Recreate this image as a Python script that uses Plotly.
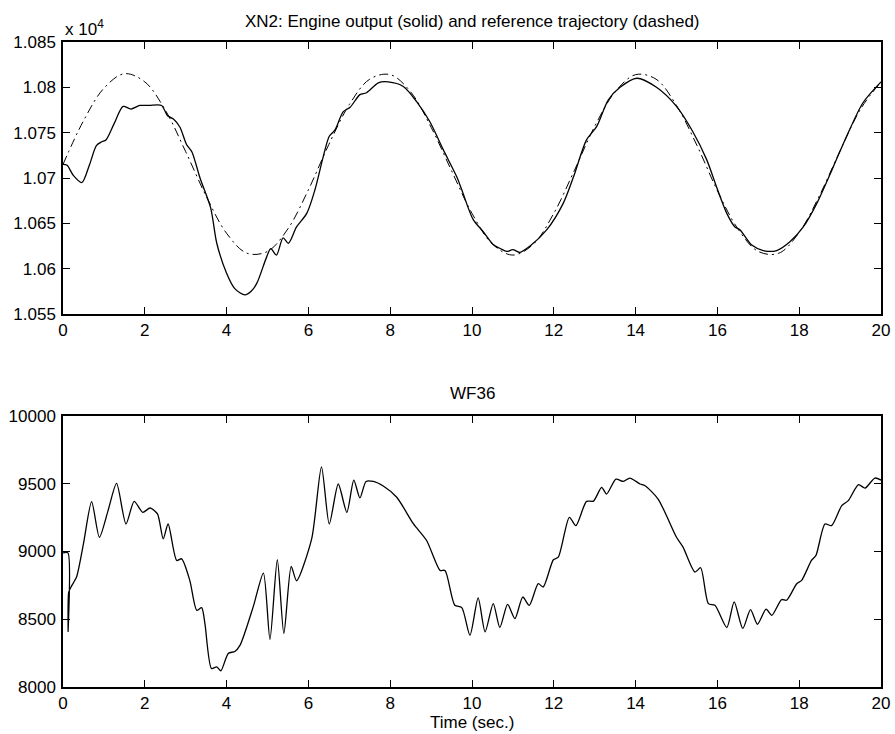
import plotly.graph_objects as go
from plotly.subplots import make_subplots

# ---- Top panel: XN2 reference trajectory (dash-dot) ----
ref_t = [0, 0.5, 1.0, 1.5, 2.0, 2.5, 3.0, 3.5, 4.0, 4.5, 5.0, 5.5, 6.0, 6.5, 7.0, 7.5, 8.0,
         8.5, 9.0, 9.5, 10.0, 10.5, 11.0, 11.5, 12.0, 12.5, 13.0, 13.5, 14.0, 14.5, 15.0,
         15.5, 16.0, 16.5, 17.0, 17.5, 18.0, 18.5, 19.0, 19.5, 20.0]
ref_v = [10715, 10763, 10799, 10815, 10806, 10775, 10729, 10680, 10639, 10617, 10619,
         10644, 10687, 10737, 10781, 10809, 10814, 10795, 10756, 10708, 10661, 10627,
         10615, 10627, 10661, 10708, 10757, 10795, 10814, 10809, 10780, 10736, 10686,
         10644, 10619, 10617, 10640, 10681, 10730, 10776, 10806]

# ---- Top panel: XN2 engine output (solid) ----
xn2_t = [0, 0.1, 0.25, 0.46, 0.65, 0.82, 0.95, 1.05, 1.25, 1.47, 1.66, 1.88, 2.1, 2.41,
         2.55, 2.7, 2.86, 3.02, 3.15, 3.35, 3.61, 3.76, 4.0, 4.2, 4.45, 4.6, 4.74, 4.98,
         5.08, 5.22, 5.38, 5.51, 5.71, 5.96, 6.16, 6.36, 6.51, 6.65, 6.85, 7.02, 7.26,
         7.42, 7.71, 7.95, 8.32, 8.65, 8.97, 9.3, 9.63, 9.75, 10.03, 10.27, 10.51, 10.7,
         10.85, 11.0, 11.17, 11.42, 11.83, 12.23, 12.48, 12.8, 13.05, 13.33, 13.62, 14.03,
         14.51, 15.0, 15.4, 15.74, 15.98, 16.23, 16.43, 16.55, 16.84, 17.12, 17.45, 17.78,
         18.1, 18.43, 18.83, 19.16, 19.56, 20.0]
xn2_v = [10715, 10714, 10703, 10695, 10715, 10736, 10740, 10742, 10760, 10779, 10776,
         10780, 10780, 10780, 10769, 10765, 10756, 10737, 10729, 10700, 10667, 10628,
         10595, 10578, 10571, 10575, 10584, 10613, 10622, 10615, 10634, 10628, 10646,
         10661, 10687, 10723, 10746, 10753, 10773, 10778, 10792, 10794, 10805, 10806,
         10801, 10784, 10762, 10731, 10701, 10687, 10654, 10641, 10627, 10622, 10619,
         10621, 10618, 10625, 10643, 10672, 10701, 10742, 10757, 10786, 10800, 10810,
         10800, 10779, 10751, 10720, 10690, 10661, 10646, 10643, 10626, 10620, 10620,
         10630, 10646, 10672, 10712, 10746, 10783, 10806]

# ---- Bottom panel: WF36 ----
wf_t = [0, 0.12, 0.125, 0.14, 0.2, 0.33, 0.5, 0.7, 0.89, 1.1, 1.31, 1.54, 1.74, 1.95, 2.13,
        2.31, 2.45, 2.57, 2.78, 2.9, 3.1, 3.27, 3.39, 3.47, 3.63, 3.76, 3.86, 4.04, 4.2,
        4.33, 4.65, 4.9, 5.06, 5.24, 5.4, 5.58, 5.71, 6.08, 6.32, 6.51, 6.73, 6.94, 7.11,
        7.26, 7.41, 7.59, 7.83, 8.16, 8.57, 8.89, 9.22, 9.34, 9.58, 9.75, 9.95, 10.15,
        10.32, 10.52, 10.68, 10.87, 11.05, 11.24, 11.4, 11.62, 11.74, 11.99, 12.11, 12.38,
        12.54, 12.8, 12.97, 13.17, 13.29, 13.52, 13.7, 13.86, 14.11, 14.23, 14.55, 15.0,
        15.16, 15.45, 15.59, 15.78, 15.94, 16.23, 16.41, 16.62, 16.81, 16.98, 17.19, 17.33,
        17.57, 17.69, 17.94, 18.06, 18.3, 18.41, 18.63, 18.79, 19.04, 19.2, 19.45, 19.61,
        19.85, 20.0]
wf_v = [8990, 8990, 8410, 8700, 8740, 8811, 9057, 9368, 9105, 9300, 9502, 9203, 9370, 9289,
        9321, 9277, 9093, 9203, 8934, 8946, 8787, 8566, 8586, 8468, 8137, 8149, 8120, 8248,
        8262, 8309, 8591, 8841, 8351, 8939, 8395, 8890, 8784, 9093, 9625, 9203, 9498, 9289,
        9527, 9395, 9517, 9517, 9483, 9400, 9203, 9081, 8860, 8860, 8603, 8586, 8382, 8657,
        8407, 8615, 8439, 8610, 8505, 8664, 8603, 8762, 8738, 8939, 8958, 9252, 9191, 9370,
        9372, 9473, 9424, 9534, 9517, 9542, 9498, 9485, 9387, 9105, 9032, 8848, 8880, 8615,
        8603, 8439, 8628, 8432, 8571, 8463, 8574, 8529, 8645, 8640, 8762, 8787, 8934, 8971,
        9203, 9191, 9338, 9375, 9493, 9468, 9542, 9527]

x_ticks = [0, 2, 4, 6, 8, 10, 12, 14, 16, 18, 20]
top_ticks = [10550, 10600, 10650, 10700, 10750, 10800, 10850]
top_labels = ["1.055", "1.06", "1.065", "1.07", "1.075", "1.08", "1.085"]
bot_ticks = [8000, 8500, 9000, 9500, 10000]
bot_labels = ["8000", "8500", "9000", "9500", "10000"]

FONT = "Liberation Sans, Arial, Helvetica, sans-serif"
FS = 17

fig = make_subplots(rows=2, cols=1, vertical_spacing=0.0)

fig.add_trace(go.Scatter(x=ref_t, y=ref_v, mode="lines",
                         line=dict(color="black", width=1, dash="9px,4px,2px,4px", shape="spline"),
                         showlegend=False), row=1, col=1)
fig.add_trace(go.Scatter(x=xn2_t, y=xn2_v, mode="lines",
                         line=dict(color="black", width=1.3, shape="spline", smoothing=0.8),
                         showlegend=False), row=1, col=1)
fig.add_trace(go.Scatter(x=wf_t, y=wf_v, mode="lines",
                         line=dict(color="black", width=1.3, shape="spline", smoothing=0.7),
                         showlegend=False), row=2, col=1)

axis_common = dict(showgrid=False, zeroline=False, showline=True, linecolor="black",
                   linewidth=1.5, mirror="ticks", ticks="inside", ticklen=7,
                   tickcolor="black", tickwidth=1, automargin=False,
                   tickfont=dict(size=FS, color="black", family=FONT))

fig.update_xaxes(**axis_common, range=[0, 20], tickvals=x_ticks, ticklabelstandoff=0)
fig.update_xaxes(domain=[0, 1], row=1, col=1)
fig.update_xaxes(domain=[0, 1], row=2, col=1)
fig.update_yaxes(**axis_common, ticklabelstandoff=2)
fig.update_yaxes(domain=[0.5783, 1], range=[10550, 10850], tickvals=top_ticks,
                 ticktext=top_labels, row=1, col=1)
fig.update_yaxes(domain=[0, 0.4202], range=[8000, 10000], tickvals=bot_ticks,
                 ticktext=bot_labels, row=2, col=1)

fig.update_layout(
    width=895, height=734,
    margin=dict(l=63, r=14, t=42, b=47),
    paper_bgcolor="white", plot_bgcolor="white",
    font=dict(family=FONT, size=FS, color="black"),
    annotations=[
        dict(text="XN2: Engine output (solid) and reference trajectory (dashed)",
             x=0.5, y=1.0315, xref="paper", yref="paper", showarrow=False,
             xanchor="center", yanchor="middle", font=dict(size=FS)),
        dict(text="x 10<sup>4</sup>", x=0.0, y=1.022, xref="paper", yref="paper",
             showarrow=False, xanchor="left", yanchor="middle", font=dict(size=FS)),
        dict(text="WF36", x=0.5, y=0.4543, xref="paper", yref="paper", showarrow=False,
             xanchor="center", yanchor="middle", font=dict(size=FS)),
        dict(text="Time (sec.)", x=0.5, y=-0.0555, xref="paper", yref="paper",
             showarrow=False, xanchor="center", yanchor="middle", font=dict(size=FS)),
    ],
)

fig.write_html("out.html", config={"displayModeBar": False},
               post_script="document.body.style.margin='0';document.body.style.overflow='hidden';")
